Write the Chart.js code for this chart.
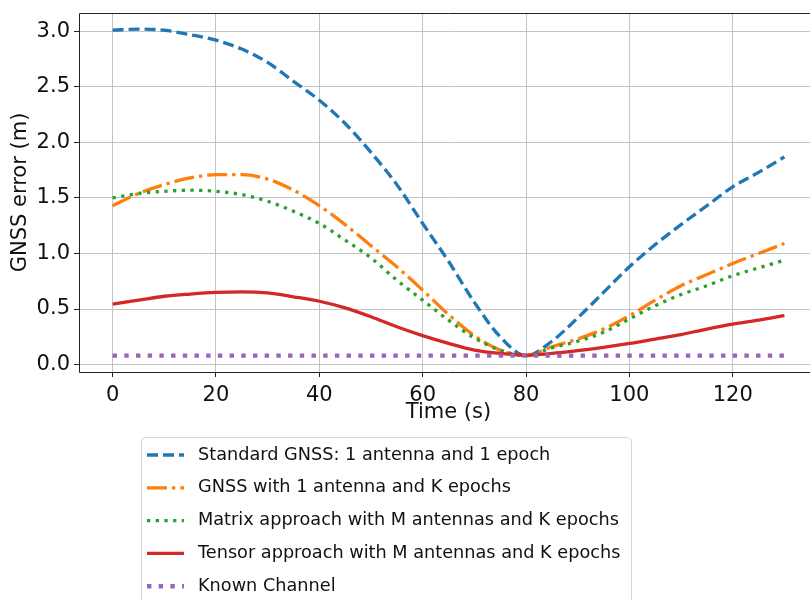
<!DOCTYPE html>
<html>
<head>
<meta charset="utf-8">
<script src="https://cdn.jsdelivr.net/npm/chart.js@4.4.1/dist/chart.umd.min.js"></script>
<style>
  html, body { margin: 0; padding: 0; overflow: hidden; background: #fff; }
  #wrap { width: 830px; height: 600px; }
</style>
</head>
<body>
<div id="wrap"><canvas id="myChart" width="830" height="600"></canvas></div>
<script>
/* DATA */
const time = [0, 5, 10, 15, 20, 25, 30, 35, 40, 45, 50, 55, 60, 65, 70, 75, 80, 85, 90, 95, 100, 105, 110, 115, 120, 125, 130];

const standardGnss = [3.01, 3.02, 3.01, 2.97, 2.92, 2.84, 2.72, 2.55, 2.38, 2.17, 1.91, 1.62, 1.27, 0.93, 0.56, 0.25, 0.08, 0.21, 0.42, 0.65, 0.88, 1.08, 1.26, 1.43, 1.60, 1.73, 1.87];
const gnssKEpochs  = [1.43, 1.54, 1.62, 1.68, 1.71, 1.71, 1.67, 1.57, 1.43, 1.26, 1.07, 0.88, 0.67, 0.45, 0.26, 0.13, 0.08, 0.16, 0.23, 0.32, 0.44, 0.58, 0.71, 0.81, 0.91, 1.00, 1.09];
const matrixApproach = [1.50, 1.54, 1.56, 1.57, 1.56, 1.53, 1.47, 1.38, 1.27, 1.12, 0.96, 0.76, 0.58, 0.40, 0.24, 0.13, 0.08, 0.15, 0.21, 0.29, 0.41, 0.53, 0.63, 0.71, 0.80, 0.87, 0.94];
const tensorApproach = [0.545, 0.58, 0.615, 0.635, 0.65, 0.655, 0.645, 0.61, 0.57, 0.51, 0.43, 0.34, 0.26, 0.19, 0.13, 0.10, 0.085, 0.10, 0.125, 0.155, 0.19, 0.23, 0.27, 0.32, 0.365, 0.40, 0.44];
const knownChannel = [0.08, 0.08, 0.08, 0.08, 0.08, 0.08, 0.08, 0.08, 0.08, 0.08, 0.08, 0.08, 0.08, 0.08, 0.08, 0.08, 0.08, 0.08, 0.08, 0.08, 0.08, 0.08, 0.08, 0.08, 0.08, 0.08, 0.08];

const seriesLabels = [
  'Standard GNSS: 1 antenna and 1 epoch',
  'GNSS with 1 antenna and K epochs',
  'Matrix approach with M antennas and K epochs',
  'Tensor approach with M antennas and K epochs',
  'Known Channel',
];

const xTicks = [0, 20, 40, 60, 80, 100, 120];
const yTicks = [0, 0.5, 1.0, 1.5, 2.0, 2.5, 3.0];

/* STYLE */
const FONT = 'DejaVu Sans';
Chart.defaults.font.family = FONT;
Chart.defaults.color = '#111';

const styles = [
  { color: '#1f77b4', width: 3.3, dash: [11, 5] },
  { color: '#ff7f0e', width: 3.3, dash: [20, 5, 3.3, 5] },
  { color: '#2ca02c', width: 3.3, dash: [3.3, 5.4] },
  { color: '#d62728', width: 3.3, dash: [] },
  { color: '#9467bd', width: 4.4, dash: [4.4, 7.3] },
];

const allSeries = [standardGnss, gnssKEpochs, matrixApproach, tensorApproach, knownChannel];

const datasets = allSeries.map((vals, i) => ({
  label: seriesLabels[i],
  data: time.map((t, j) => ({ x: t, y: vals[j] })),
  borderColor: styles[i].color,
  borderWidth: styles[i].width,
  borderDash: styles[i].dash,
  borderJoinStyle: 'round',
  pointRadius: 0,
  fill: false,
  cubicInterpolationMode: 'monotone',
  order: allSeries.length - i, // later series on top, like matplotlib
}));

/* spines: left, bottom, top (right one is off the page) */
const framePlugin = {
  id: 'frame',
  afterDatasetsDraw(chart) {
    const { ctx, chartArea: a } = chart;
    const l = Math.round(a.left) + 0.5, t = Math.round(a.top) + 0.5, b = Math.round(a.bottom) + 0.5;
    ctx.save();
    ctx.strokeStyle = '#222';
    ctx.lineWidth = 1;
    ctx.beginPath();
    ctx.moveTo(a.right, t);
    ctx.lineTo(l, t);
    ctx.lineTo(l, b);
    ctx.lineTo(a.right, b);
    ctx.stroke();
    ctx.restore();
  },
};

/* matplotlib-like legend box under the axes */
const legendBoxPlugin = {
  id: 'legendBox',
  afterDraw(chart) {
    const { ctx } = chart;
    const left = 141, right = 631, top = 437, bottom = 620;
    const rowStart = 455, rowGap = 32.8;
    ctx.save();
    ctx.beginPath();
    ctx.roundRect(left + 0.5, top + 0.5, right - left, bottom - top, 4);
    ctx.fillStyle = 'rgba(255,255,255,0.8)';
    ctx.fill();
    ctx.strokeStyle = '#d6d6d6';
    ctx.lineWidth = 1;
    ctx.stroke();

    chart.data.datasets.forEach((ds, i) => {
      const y = rowStart + i * rowGap;
      ctx.beginPath();
      ctx.setLineDash(ds.borderDash);
      ctx.strokeStyle = ds.borderColor;
      ctx.lineWidth = ds.borderWidth;
      ctx.lineCap = 'butt';
      ctx.moveTo(147, y);
      ctx.lineTo(184, y);
      ctx.stroke();

      ctx.setLineDash([]);
      ctx.fillStyle = '#111';
      ctx.font = '17.7px "' + FONT + '"';
      ctx.textBaseline = 'middle';
      ctx.textAlign = 'left';
      ctx.fillText(ds.label, 198, y);
    });
    ctx.restore();
  },
};

const config = {
  type: 'line',
  data: { datasets },
  options: {
    responsive: false,
    animation: false,
    devicePixelRatio: 1,
    layout: { padding: { left: 0, right: 12, top: 13, bottom: 175 } },
    plugins: {
      legend: { display: false },
      tooltip: { enabled: false },
    },
    scales: {
      x: {
        type: 'linear',
        min: -6.5,
        max: 136.5,
        afterBuildTicks: (scale) => { scale.ticks = xTicks.map(v => ({ value: v })); },
        afterFit: (scale) => {
          scale.height = 53;
          scale.paddingLeft = 0;
          scale.paddingRight = 0;
        },
        grid: { color: '#c4c4c4', lineWidth: 1, tickLength: 5, tickColor: '#222' },
        border: { display: false },
        ticks: {
          font: { size: 21 },
          color: '#111',
          padding: 6,
          maxRotation: 0,
          callback: (v) => String(v),
        },
        title: {
          display: true,
          text: 'Time (s)',
          font: { size: 21 },
          color: '#111',
          padding: { top: 0, bottom: 0 },
        },
      },
      y: {
        type: 'linear',
        min: -0.067,
        max: 3.165,
        afterBuildTicks: (scale) => { scale.ticks = yTicks.map(v => ({ value: v })); },
        afterFit: (scale) => {
          scale.width = 79;
          scale.paddingTop = 0;
          scale.paddingBottom = 0;
        },
        grid: { color: '#c4c4c4', lineWidth: 1, tickLength: 5, tickColor: '#222' },
        border: { display: false },
        ticks: {
          font: { size: 21 },
          color: '#111',
          padding: 4,
          callback: (v) => Number(v).toFixed(1),
        },
        title: {
          display: true,
          text: 'GNSS error (m)',
          font: { size: 21 },
          color: '#111',
          padding: { top: 8, bottom: 0 },
        },
      },
    },
  },
  plugins: [framePlugin, legendBoxPlugin],
};

const myChart = new Chart(document.getElementById('myChart').getContext('2d'), config);
</script>
</body>
</html>
